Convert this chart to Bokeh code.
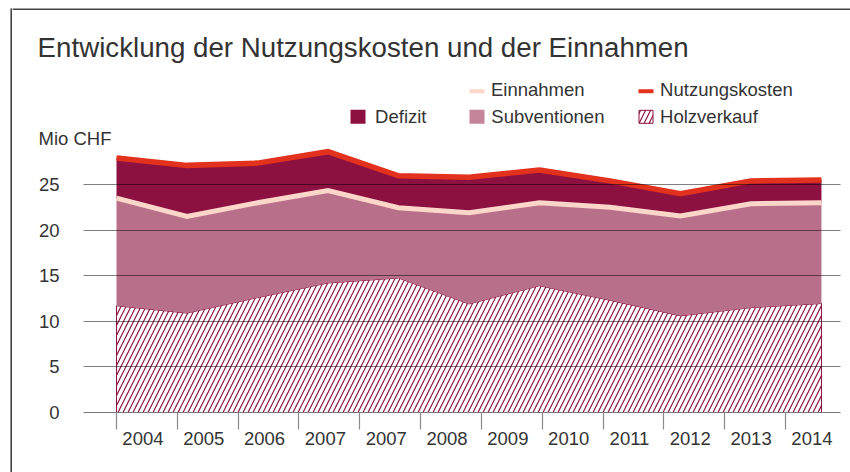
from bokeh.plotting import figure
from bokeh.layouts import row, column
from bokeh.models import Range1d, FixedTicker, Label
from bokeh.embed import file_html
from bokeh.resources import INLINE

# ---------------- data (Mio CHF) ----------------
years = [2004, 2005, 2006, 2007, 2008, 2009, 2010, 2011, 2012, 2013, 2014]
holzverkauf = [11.7, 10.9, 12.6, 14.2, 14.75, 11.9, 13.9, 12.3, 10.6, 11.5, 11.95]
einnahmen = [23.5, 21.5, 23.0, 24.35, 22.45, 21.9, 23.0, 22.5, 21.55, 22.9, 23.0]
nutzungskosten = [27.9, 27.1, 27.35, 28.6, 25.95, 25.8, 26.6, 25.4, 24.0, 25.4, 25.5]
tick_labels = ["2004", "2005", "2006", "2007", "2007", "2008", "2009",
               "2010", "2011", "2012", "2013", "2014"]
y_ticks = [0, 5, 10, 15, 20, 25]

# ---------------- styling ----------------
FONT = "Liberation Sans"
TXT = "#333333"
BORDER = "#444444"
DARK = "#8c1040"
PINK = "#b86f89"
PINK_LEG = "#c4849a"
LIGHT = "#fcd6c8"
RED = "#e2311d"
HATCH_SCALE = 10

def bare(fig):
    fig.outline_line_color = None
    fig.background_fill_color = "white"
    fig.border_fill_color = "white"
    fig.frame_align = False
    return fig

# ---------------- left strip (frame border, left side) ----------------
S_W, TOTAL_H = 12, 472
s = bare(figure(width=S_W, height=TOTAL_H, output_backend="svg", toolbar_location=None,
                x_range=Range1d(0, S_W), y_range=Range1d(TOTAL_H, 0),
                x_axis_type=None, y_axis_type=None, min_border=0))
s.segment(x0=[10.7, 10.7], y0=[8.0, 8.7], x1=[10.7, S_W], y1=[TOTAL_H, 8.7],
          line_color=BORDER, line_width=1.6)

# ---------------- header (title, legend, unit) ----------------
W, H_H = 838, 147
h = bare(figure(width=W, height=H_H, output_backend="svg", toolbar_location=None,
                x_range=Range1d(0, W), y_range=Range1d(H_H, 0),
                x_axis_type=None, y_axis_type=None, min_border=0))
h.segment(x0=[0], y0=[8.7], x1=[W], y1=[8.7], line_color=BORDER, line_width=1.6)

h.add_layout(Label(x=25.1, y=47.2, text="Entwicklung der Nutzungskosten und der Einnahmen",
                   text_font=FONT, text_font_size="27.7px", text_color=TXT,
                   text_baseline="alphabetic"))
h.add_layout(Label(x=26, y=137.5, text="Mio CHF", text_font=FONT, text_font_size="18.5px",
                   text_color=TXT, text_baseline="alphabetic"))

# legend swatches
h.quad(left=[457, 626], right=[472, 641], top=[88.7, 88.7], bottom=[92.7, 92.7],
       fill_color=[LIGHT, RED], line_color=None)
h.quad(left=[338, 457], right=[353, 472], top=[109.3, 109.3], bottom=[123.3, 123.3],
       fill_color=[DARK, PINK_LEG], line_color=None)
h.quad(left=[626.5], right=[640.5], top=[109.8], bottom=[122.8], fill_color="white",
       hatch_pattern="/", hatch_color=DARK, hatch_scale=HATCH_SCALE, hatch_weight=1.2,
       line_color=DARK, line_width=1)
for txt, lx, ly in [("Einnahmen", 478.5, 89.2), ("Nutzungskosten", 647.6, 89.2),
                    ("Defizit", 362.6, 115.7), ("Subventionen", 478.8, 115.7),
                    ("Holzverkauf", 647.6, 115.7)]:
    h.add_layout(Label(x=lx, y=ly, text=txt, text_font=FONT, text_font_size="18.5px",
                       text_color=TXT, text_baseline="alphabetic"))

# ---------------- chart ----------------
C_H = TOTAL_H - H_H
x = list(range(len(years)))
cat_w = 0.8627
bounds = [round(k * cat_w, 4) for k in range(len(tick_labels))]
label_pos = [round(k * cat_w + 0.435 * cat_w, 4) for k in range(len(tick_labels))]

p = bare(figure(width=W, height=C_H, output_backend="svg", toolbar_location=None,
                x_range=Range1d(-0.468, 10.27), y_range=Range1d(0, 29.06),
                min_border_left=71, min_border_right=10, min_border_top=0,
                min_border_bottom=60))

xs = x + x[::-1]
ys = holzverkauf + [0] * len(x)
p.patch(xs, ys, fill_color="white", hatch_pattern="/", hatch_color=DARK,
        hatch_scale=HATCH_SCALE, hatch_weight=1.2, line_color=DARK, line_width=1)
p.varea(x=x, y1=holzverkauf, y2=einnahmen, fill_color=PINK)
p.varea(x=x, y1=einnahmen, y2=nutzungskosten, fill_color=DARK)
p.line(x, einnahmen, line_color=LIGHT, line_width=5, line_join="miter")
p.line(x, nutzungskosten, line_color=RED, line_width=5.5, line_join="miter")

p.xgrid.visible = False
p.ygrid.ticker = FixedTicker(ticks=y_ticks)
p.ygrid.grid_line_color = "black"
p.ygrid.grid_line_alpha = 0.5
p.ygrid.level = "overlay"

xa = p.xaxis[0]
xa.ticker = FixedTicker(ticks=label_pos, minor_ticks=bounds)
xa.major_label_overrides = {pos: lab for pos, lab in zip(label_pos, tick_labels)}
xa.major_tick_line_color = None
xa.major_tick_out = 0
xa.major_tick_in = 0
xa.minor_tick_out = 17
xa.minor_tick_in = 0
xa.minor_tick_line_color = "#8a8a8a"
xa.minor_tick_line_width = 1.2
xa.axis_line_color = "#777777"
xa.major_label_standoff = 2
xa.major_label_text_font = FONT
xa.major_label_text_font_size = "18.5px"
xa.major_label_text_color = TXT

ya = p.yaxis[0]
ya.ticker = FixedTicker(ticks=y_ticks)
ya.axis_line_color = None
ya.major_tick_line_color = None
ya.minor_tick_line_color = None
ya.major_tick_out = 0
ya.major_tick_in = 0
ya.major_label_standoff = 24
ya.major_label_text_font = FONT
ya.major_label_text_font_size = "18.5px"
ya.major_label_text_color = TXT

layout = row(s, column(h, p))
open("out.html", "w").write(file_html(layout, INLINE))
